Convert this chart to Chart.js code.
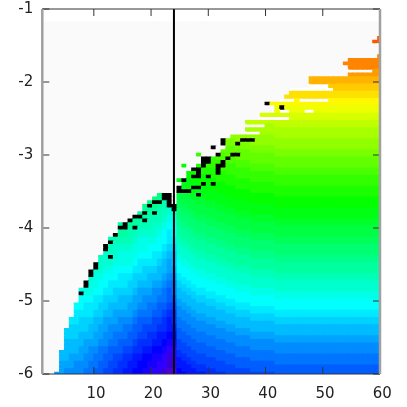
<!DOCTYPE html>
<html>
<head>
<meta charset="utf-8">
<style>
  html, body { margin: 0; background: #fff; }
  canvas { display: block; }
</style>
<script src="https://cdn.jsdelivr.net/npm/chart.js@4/dist/chart.umd.min.js"></script>
</head>
<body>
<canvas id="result" width="407" height="407"></canvas>
<script>
const xTicks = [10, 20, 30, 40, 50, 60]
const yTicks = [-6, -5, -4, -3, -2, -1]
const markerX = 24

const xCells = [
  1, 1.86, 2.71, 3.57, 4.42, 5.28, 6.13, 6.99, 7.84, 8.7, 9.55, 10.41, 11.26, 12.12,
  12.97, 13.83, 14.68, 15.54, 16.39, 17.25, 18.1, 18.96, 19.81, 20.67, 21.52, 22.38,
  23.23, 24.09, 24.94, 25.8, 26.65, 27.51, 28.36, 29.22, 30.07, 30.93, 31.78, 32.64,
  33.49, 34.35, 35.2, 36.06, 36.91, 37.77, 38.62, 39.48, 40.33, 41.19, 42.04, 42.9,
  43.75, 44.61, 45.46, 46.32, 47.17, 48.03, 48.88, 49.74, 50.59, 51.45, 52.3, 53.16,
  54.01, 54.87, 55.72, 56.58, 57.43, 58.29, 59.14, 60
]

const yCells = [
  -6, -5.95, -5.9, -5.85, -5.8, -5.75, -5.7, -5.65, -5.6, -5.55, -5.5, -5.45, -5.4,
  -5.35, -5.3, -5.25, -5.2, -5.15, -5.1, -5.05, -5, -4.95, -4.9, -4.85, -4.8, -4.75,
  -4.7, -4.65, -4.6, -4.55, -4.5, -4.45, -4.4, -4.35, -4.3, -4.25, -4.2, -4.15, -4.1,
  -4.05, -4, -3.95, -3.9, -3.85, -3.8, -3.75, -3.7, -3.65, -3.6, -3.55, -3.5, -3.45,
  -3.4, -3.35, -3.3, -3.25, -3.2, -3.15, -3.1, -3.05, -3, -2.95, -2.9, -2.85, -2.8,
  -2.75, -2.7, -2.65, -2.6, -2.55, -2.5, -2.45, -2.4, -2.35, -2.3, -2.25, -2.2, -2.15,
  -2.1, -2.05, -2, -1.95, -1.9, -1.85, -1.8, -1.75, -1.7, -1.65, -1.6, -1.55, -1.5,
  -1.45, -1.4, -1.35, -1.3, -1.25, -1.2
]

// one row per y cell, bottom first. letters are levels,
// . no data, _ gap, # saturated black. a count repeats the next letter.
// left of | starts at the first column, right of | at the column after the marker
const levelRows = [
  '3.llkkkkjjiihhggffeeddccbaa|2e4f4g10hi',
  '4.lkkkkjjiihhggffeeddccbaa|e3f4g7hi',
  '4.lllkkkjjiihhggffeeddccbb|3f3g6hi',
  '4.lllkkkjjiihhggffeeddccbb|2f2g6h10ij',
  '4.mmlllkkjjiihhggffeeddcbc|f2g5h7ij',
  '4.mmlllkkjjiihhggffeeddcbc|2g4h6ij',
  '4.mmmmllkkjjiiihhggffeedcc|g3h6i10jk',
  '5.mmmllkkjjiiihhggffeedcc|3h5i7jk',
  '5.mmmmlllkkjjiiihgggffedd|2h4i6jk',
  '5.mmmmlllkkjjiiihgggffedd|h3i6j10kl',
  '5.nnnmmmllkkjjjiihhggffee|3i5j7kl',
  '5.nnnmmmllkkjjjiihhggffee|2i4j6k8lm',
  '5.nnnnnmmllkkkjjiihhhggff|i3j6k5lm',
  '6.nnnnmmllkkkjjiihhhggff|3j5k4lm',
  '6.oonnnmmlllkkkjiiihhgfg|2j4k4l10mn',
  '6.oonnnmmlllkkkjiiihhgfg|j3k4l7mn',
  '7.oooonnmmllllkjjjiihgg|3k3l6m8no',
  '7.oooonnmmllllkjjjiihgg|2k2l6m5no',
  '7.ppooonnmmmmllkkjjiihh|k2l5m4n8op',
  '7.ppooonnmmmmllkkjjiihh|2l4m4n5op',
  '8.pppoonnnmmmllkkkjjii|l3m4n4op',
  '8.pppoonnnmmmllkkkjjii|3m3n4o10pq',
  '8.#qqppoonnnnmlllkkjij|2m2n4o7pq',
  '8.qqqppoonnnnmlllkkjij|m2n3o6p8qr',
  '9.#qqppoooonnmmmllkjj|2n2o6p5qr',
  '9.#qqppoooonnmmmllkjj|n2o5p4qr',
  '10.rqqpppooonnnmmmlkk|2o4p4q10rs',
  '10.#qqpppooonnnmmmlkk|o3p4q7rs',
  '10.#rrqqppppoonnnmmll|3p3q6r8st',
  '11.#rqqppppoonnnmmll|2p2q6r5st',
  '11.#rrrqqqqpoooonmlm|p2q5r4st',
  '12.rrrqqqqpoooonmlm|2q4r4s10tu',
  '12.sr#rqqqqpppoonmm|q3r4s7tu',
  '13.rrrqqqqpppoonmm|3r3s6t8uv',
  '13.#srrrrqqqppponn|2r2s6t5uv',
  '13.#srrrrqqqppponn|r2s5t4uv',
  '14.#ssssrqqqqppoo|2s4t4u10vw',
  '14.sssssrqqqqppoo|s3t4u7vw',
  '15.#ttssrrrrqpop|3t3u6v8wx',
  '16.ttssrrrrqpop|2t2u6v5wx',
  '16.##t#sssrrqpp|t2u5v4wx',
  '16.t#ttsssrrqpp|2u4v4w10xy',
  '18.#tt#sssrqq|u3v4w7xy',
  '19.##tsssrqq|3v3w6x8yz',
  '20.t#t#ssrr|2v2w6x5yz',
  '21.tttssr#|v2w5x4yz',
  '21.u#uts##|2w4x4y10zA',
  '22.u##s#.|w3x4y7zA',
  '23.uu##.|3x3y6zA',
  '24.u##.|2x2y#5z10AB',
  '|###5z7AB',
  '|#yz##z6AB',
  '|.3zA#A#2A10BC',
  '|z#z5A7BC',
  '|2.A##A#5BC',
  '|2.AA#3B#B10CD',
  '|3.##3B#6CD',
  '|.A2.B#2C##2C8DE',
  '|5.##2C#5DE',
  '|5.##C2D#DE',
  '|4.C3.#DE##7EF',
  '|9.6EF',
  '|7.#2.2E8FG',
  '|9.#2F#2FG',
  '|9.#2FG###G',
  '|11.9GH',
  '|14.3_H',
  '|14.H',
  '|14.4_2HI',
  '|14.I',
  '|17.6_J',
  '|17.J',
  '|20.K2_3K2_K',
  '|20.K#K',
  '|18.#L',
  '|21.3_L6_L',
  '|22.M',
  '|23.M',
  '|23.9_N',
  '|27.4_N',
  '|27.O',
  '|27.O',
  '|35.P',
  '|35.5_P',
  '|35.Q',
  '|34.Q',
  '|35.Q',
  '|41.Q',
  '|',
  '|',
  '|',
  '|40.S',
  '|41.S',
  '|',
  '|',
  '|',
  '|'
]

const levelOrder = 'abcdefghijklmnopqrstuvwxyzABCDEFGHIJKLMNOPQRSTUVWXYZ'
const splitColumn = 28

function expand (text) {
  let out = ''
  for (const m of text.matchAll(/(\d*)(\D)/g)) {
    out += m[2].repeat(m[1] ? Number(m[1]) : 1)
  }
  return out
}

function decodeRow (row) {
  const parts = row.split('|')
  const left = expand(parts[0]).padEnd(splitColumn, '.')
  const right = expand(parts[1])
  const fill = right ? right[right.length - 1] : '.'
  return (left + right).padEnd(xCells.length, fill)
}

function cellColor (ch) {
  if (ch === '.') return '#fafafa'
  if (ch === '_') return 'rgba(0,0,0,0)'
  if (ch === '#') return '#000000'
  const i = levelOrder.indexOf(ch)
  return 'hsl(' + (262 - 5.5 * i) + ',100%,' + (i < 2 ? 42 : 50) + '%)'
}

const cellDatasets = levelRows.map((row, r) => {
  const cells = decodeRow(row)
  return {
    type: 'bar',
    data: xCells.map((x, k) => ({ x: x, y: [yCells[r] - 0.025, yCells[r] + 0.025] })),
    backgroundColor: xCells.map((x, k) => cellColor(cells[k])),
    borderWidth: 0,
    barThickness: 4.9,
    grouped: false,
    inflateAmount: 0.4
  }
})

const markerDataset = {
  type: 'line',
  order: -1,
  data: [{ x: markerX, y: -6 }, { x: markerX, y: -1 }],
  borderColor: '#000000',
  borderWidth: 2,
  pointRadius: 0
}

// gnuplot style frame: ticks point inwards and repeat on the far sides
const framePlugin = {
  id: 'frame',
  afterDraw (chart) {
    const ctx = chart.ctx
    const a = chart.chartArea
    ctx.save()
    ctx.lineWidth = 1
    ctx.strokeStyle = '#333333'
    ctx.beginPath()
    xTicks.forEach(v => {
      const px = chart.scales.x.getPixelForValue(v)
      ctx.moveTo(px, a.bottom)
      ctx.lineTo(px, a.bottom - 7)
      ctx.moveTo(px, a.top)
      ctx.lineTo(px, a.top + 7)
    })
    yTicks.forEach(v => {
      const py = chart.scales.y.getPixelForValue(v)
      ctx.moveTo(a.left, py)
      ctx.lineTo(a.left + 7, py)
      ctx.moveTo(a.right, py)
      ctx.lineTo(a.right - 7, py)
    })
    ctx.moveTo(a.left, a.top)
    ctx.lineTo(a.right, a.top)
    ctx.moveTo(a.left, a.bottom)
    ctx.lineTo(a.right, a.bottom)
    ctx.stroke()
    ctx.lineWidth = 2.5
    ctx.strokeStyle = '#a0a0a0'
    ctx.beginPath()
    ctx.moveTo(a.left, a.top)
    ctx.lineTo(a.left, a.bottom)
    ctx.moveTo(a.right, a.top)
    ctx.lineTo(a.right, a.bottom)
    ctx.stroke()
    ctx.restore()
  }
}

new Chart(document.getElementById('result'), {
  type: 'bar',
  data: { datasets: cellDatasets.concat([markerDataset]) },
  plugins: [framePlugin],
  options: {
    responsive: false,
    animation: false,
    events: [],
    layout: { padding: { top: 9, right: 27 } },
    plugins: { legend: { display: false }, tooltip: { enabled: false } },
    scales: {
      x: {
        type: 'linear',
        offset: false,
        min: 1,
        max: 60,
        grid: { display: false, drawTicks: false },
        border: { display: false },
        afterBuildTicks: scale => { scale.ticks = xTicks.map(v => ({ value: v })) },
        afterFit: scale => { scale.height = 33; scale.paddingLeft = 0; scale.paddingRight = 0 },
        ticks: {
          autoSkip: false,
          maxRotation: 0,
          padding: 11,
          labelOffset: 2.3,
          color: '#222222',
          font: { family: 'DejaVu Sans', size: 15 }
        }
      },
      y: {
        min: -6,
        max: -1,
        grid: { display: false, drawTicks: false },
        border: { display: false },
        afterBuildTicks: scale => { scale.ticks = yTicks.map(v => ({ value: v })) },
        afterFit: scale => { scale.width = 42.3; scale.paddingTop = 0; scale.paddingBottom = 0 },
        ticks: {
          autoSkip: false,
          padding: 9,
          color: '#222222',
          font: { family: 'DejaVu Sans', size: 15 }
        }
      }
    }
  }
})
</script>
</body>
</html>
